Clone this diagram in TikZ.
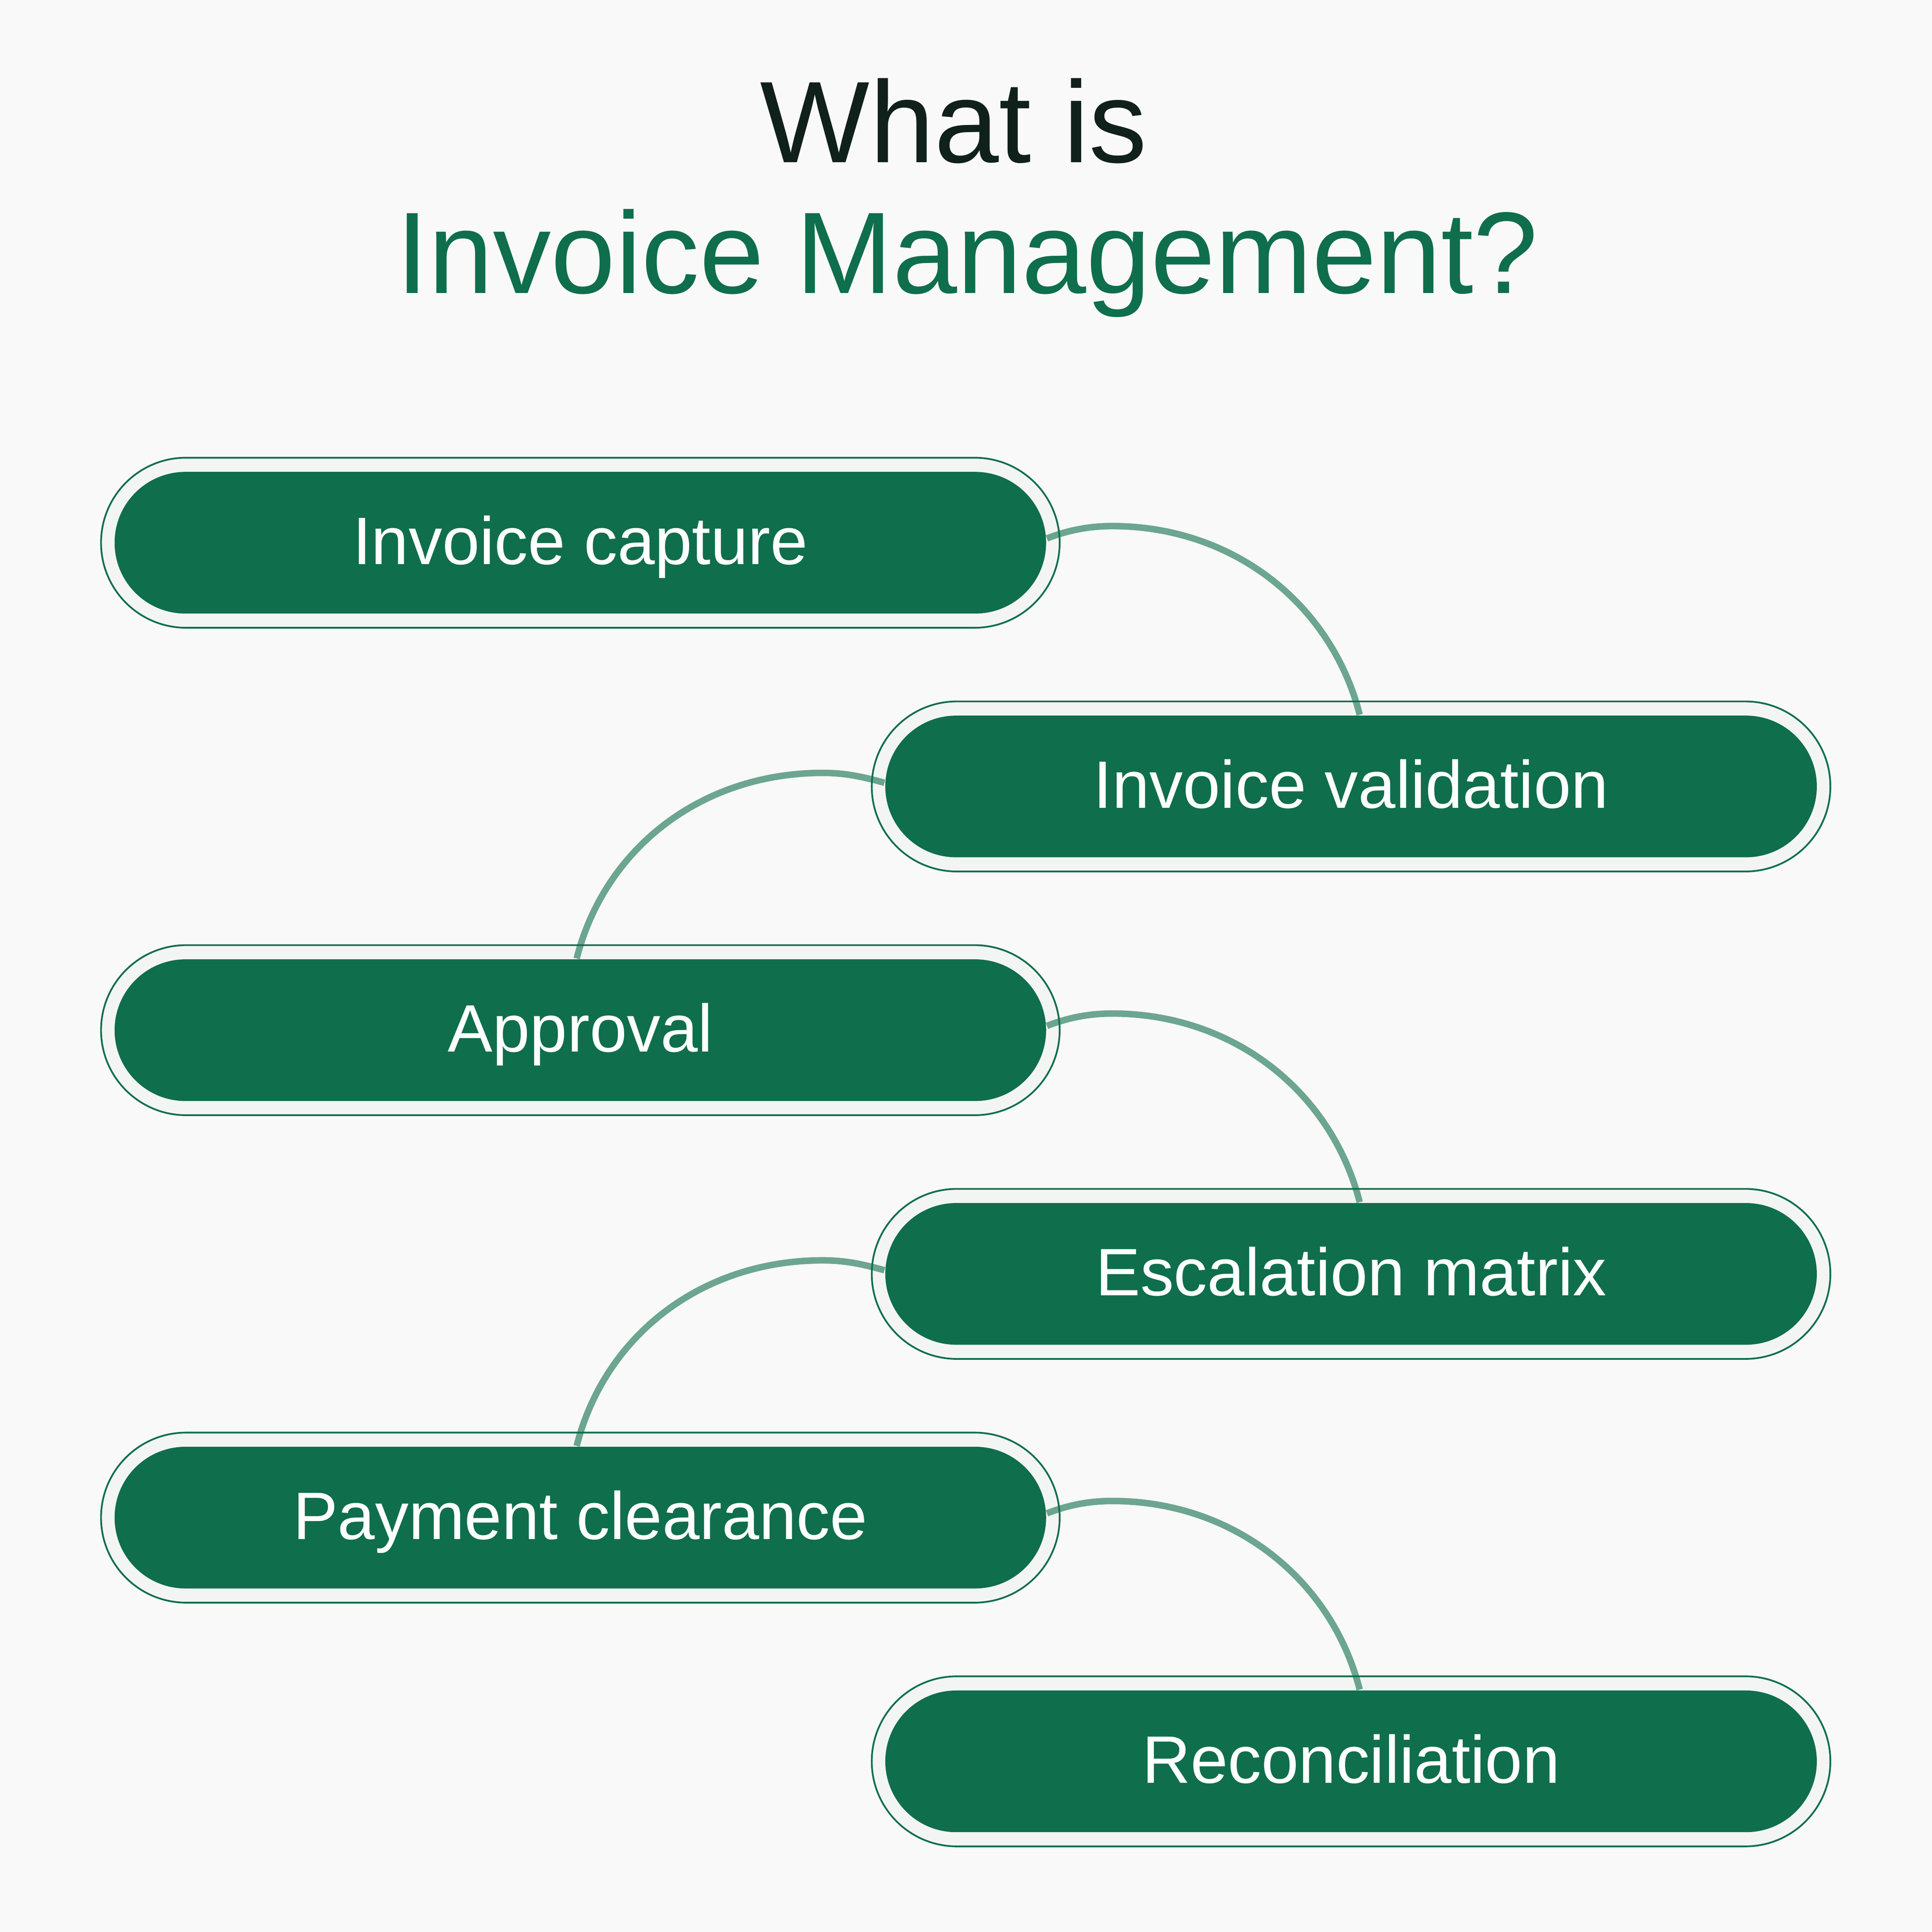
\documentclass[tikz,border=0pt]{standalone}
\usepackage{fontspec}
\setmainfont{Liberation Sans}
\usetikzlibrary{backgrounds}
\definecolor{pillgreen}{HTML}{0F6E4C}
\definecolor{paper}{HTML}{F8F9F8}
\definecolor{ringfill}{HTML}{F3F5F4}
\definecolor{titleink}{HTML}{10201A}
\tikzstyle{ring} = [rectangle, minimum width=7.78cm, minimum height=1.38cm, rounded corners=.69cm, draw=pillgreen, line width=.4pt, fill=ringfill]
\tikzstyle{pill} = [rectangle, minimum width=7.56cm, minimum height=1.15cm, rounded corners=.575cm, fill=pillgreen, text=white, text height=.40cm, text depth=.05cm, font=\fontsize{15.5}{18}\selectfont]
\tikzstyle{link} = [draw=pillgreen, draw opacity=.6, line width=1.5pt]
\tikzstyle{title} = [anchor=base, font=\fontsize{26.8}{30}\selectfont]

\begin{document}
\begin{tikzpicture}[background rectangle/.style={fill=paper}, show background rectangle, inner frame sep=0pt]

    \useasboundingbox (0, 0) rectangle (15.68, 15.68);

    \node (what) [title, text=titleink] at (7.74, 14.36) {What is};
    \node (imgmt) [title, text=pillgreen] at (7.85, 13.30) {Invoice Management?};

    \node (capring) [ring] at (4.71, 11.275) {};
    \node (valring) [ring] at (10.965, 9.297) {};
    \node (appring) [ring] at (4.71, 7.319) {};
    \node (escring) [ring] at (10.965, 5.341) {};
    \node (payring) [ring] at (4.71, 3.363) {};
    \node (recring) [ring] at (10.965, 1.385) {};

    \node (cap) [pill] at (4.71, 11.275) {Invoice capture};
    \node (val) [pill] at (10.965, 9.297) {Invoice validation};
    \node (app) [pill] at (4.71, 7.319) {Approval};
    \node (esc) [pill] at (10.965, 5.341) {Escalation matrix};
    \node (pay) [pill] at (4.71, 3.363) {Payment clearance};
    \node (rec) [pill] at (10.965, 1.385) {Reconciliation};

    \draw [link] ([yshift=.035cm]cap.east) .. controls +(.18,.07) and +(-.18,0) .. ++(.53,.1) .. controls +(.98,0) and +(-.23,.9) .. ([xshift=.07cm]val.north);
    \draw [link] ([yshift=.03cm]val.west) .. controls +(-.18,.05) and +(.18,0) .. ++(-.5,.08) .. controls +(-.98,0) and +(.23,.9) .. ([xshift=-.03cm]app.north);
    \draw [link] ([yshift=.035cm]app.east) .. controls +(.18,.07) and +(-.18,0) .. ++(.53,.1) .. controls +(.98,0) and +(-.23,.9) .. ([xshift=.07cm]esc.north);
    \draw [link] ([yshift=.03cm]esc.west) .. controls +(-.18,.05) and +(.18,0) .. ++(-.5,.08) .. controls +(-.98,0) and +(.23,.9) .. ([xshift=-.03cm]pay.north);
    \draw [link] ([yshift=.035cm]pay.east) .. controls +(.18,.07) and +(-.18,0) .. ++(.53,.1) .. controls +(.98,0) and +(-.23,.9) .. ([xshift=.07cm]rec.north);

\end{tikzpicture}
\end{document}
